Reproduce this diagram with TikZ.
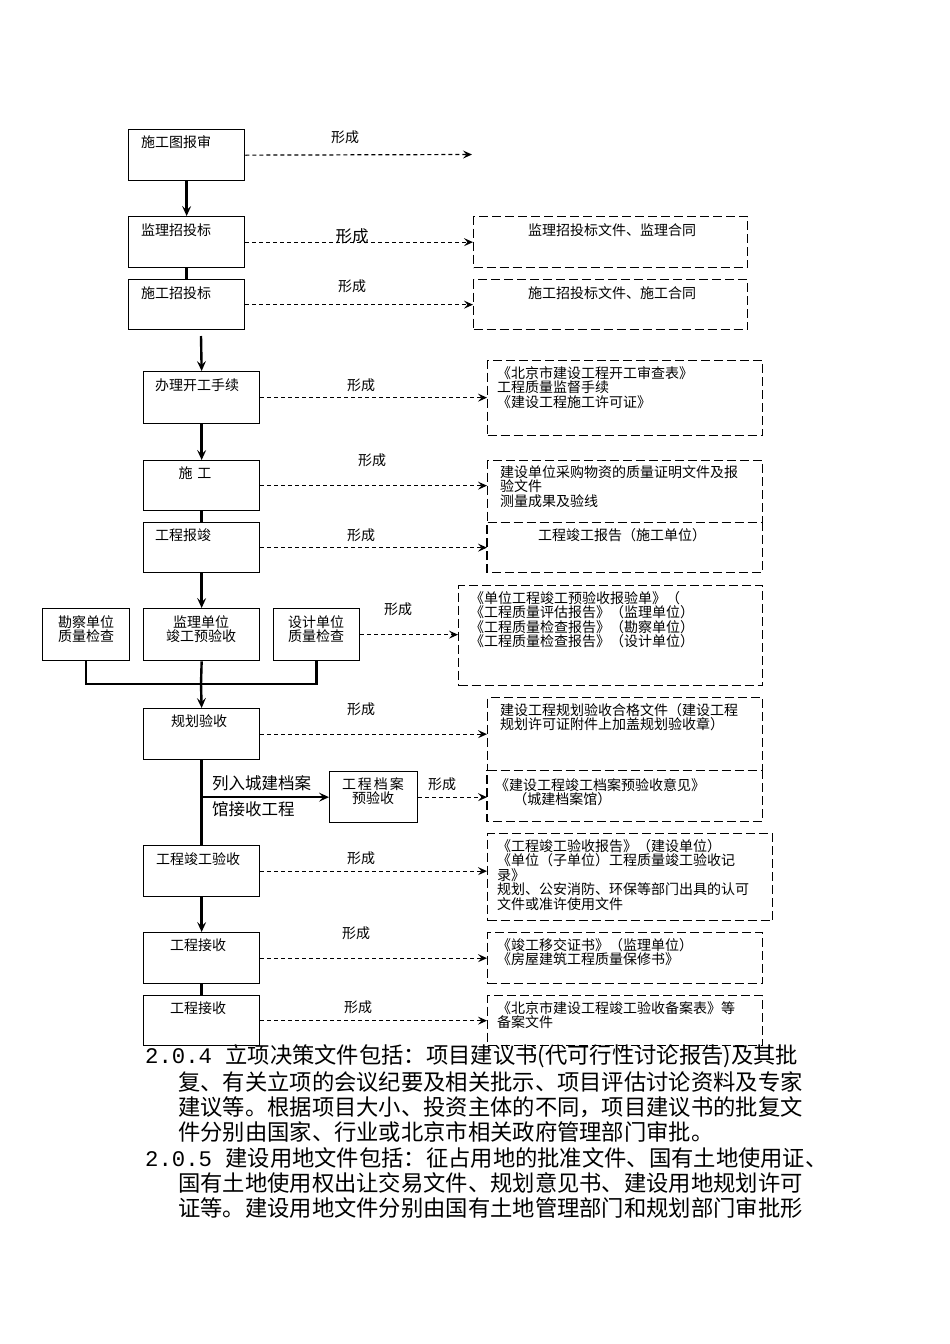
\documentclass[tikz,border=0pt]{standalone}
\usepackage{fontspec}
\setmainfont{Noto Sans CJK SC}
\newfontfamily\numfont{Liberation Mono}
\usetikzlibrary{arrows.meta}
\newcommand\fs{\fontsize{14}{14.5}\selectfont}
\newcommand\fm{\fontsize{16.5}{17}\selectfont}
\newcommand\fp{\fontsize{22.3}{23}\selectfont}
\begin{document}
\begin{tikzpicture}[x=1pt,y=-1pt,
  box/.style={draw, line width=1.3pt, anchor=north west, inner sep=0},
  dline/.style={line width=1.2pt, dash pattern=on 9pt off 4pt},
  dbox/.style={draw, dline, anchor=north west, inner sep=0},
  nbox/.style={anchor=north west, inner sep=0},
  lab/.style={font=\fs, inner sep=0},
  mlab/.style={font=\fs, inner sep=0, align=left, anchor=north west},
  clab/.style={font=\fs, inner sep=0, align=center},
  para/.style={font=\fp, inner sep=0, anchor=west},
  sline/.style={line width=2.4pt},
  sarrow/.style={line width=2.4pt, -{Stealth[length=10pt,width=9pt,inset=4pt]}},
  darrow/.style={line width=1.2pt, dash pattern=on 4pt off 3pt, -{Stealth[length=9pt,width=8pt,inset=3.5pt]}}]
\useasboundingbox (0,0) rectangle (950,1344);
\fill[white] (0,0) rectangle (950,1344);
% left boxes
\node[box, minimum width=116pt, minimum height=51pt] (b1) at (128,129) {};
\node[box, minimum width=116pt, minimum height=51pt] (b2) at (128,216) {};
\node[box, minimum width=116pt, minimum height=50pt] (b3) at (128,279) {};
\node[box, minimum width=116pt, minimum height=52pt] (b4) at (143,371) {};
\node[box, minimum width=116pt, minimum height=50pt] (b5) at (143,460) {};
\node[box, minimum width=116pt, minimum height=50pt] (b6) at (143,522) {};
\node[box, minimum width=87pt, minimum height=52pt] (bk) at (42,608) {};
\node[box, minimum width=116pt, minimum height=52pt] (bs) at (143,608) {};
\node[box, minimum width=86pt, minimum height=52pt] (bd) at (273,608) {};
\node[box, minimum width=116pt, minimum height=51pt] (b7) at (143,708) {};
\node[box, minimum width=88pt, minimum height=51pt] (ba) at (329,771) {};
\node[box, minimum width=116pt, minimum height=51pt] (b8) at (143,845) {};
\node[box, minimum width=116pt, minimum height=51pt] (b9) at (143,932) {};
\node[box, minimum width=116pt, minimum height=50pt] (b10) at (143,995) {};
% dashed boxes
\node[dbox, minimum width=274pt, minimum height=51pt] (dA) at (473,216) {};
\node[dbox, minimum width=274pt, minimum height=50pt] (dB) at (473,279) {};
\node[dbox, minimum width=275pt, minimum height=75pt] (dC) at (487,360) {};
\node[dbox, minimum width=275pt, minimum height=62pt] (dD) at (487,460) {};
\node[nbox, minimum width=275pt, minimum height=50pt] (dE) at (487,522) {};
\draw[dline] (dE.north east) -- (dE.south east) -- (dE.south west) -- (dE.north west);
\node[dbox, minimum width=304pt, minimum height=100pt] (dF) at (458,585) {};
\node[dbox, minimum width=275pt, minimum height=73pt] (dG) at (487,697) {};
\node[nbox, minimum width=275pt, minimum height=51pt] (dH) at (487,770) {};
\draw[dline] (dH.north east) -- (dH.south east) -- (dH.south west) -- (dH.north west);
\node[dbox, minimum width=285pt, minimum height=87pt] (dI) at (487,833) {};
\node[dbox, minimum width=275pt, minimum height=51pt] (dJ) at (487,932) {};
\node[dbox, minimum width=275pt, minimum height=50pt] (dK) at (487,995) {};
% box texts
\node[lab, anchor=west] (t1) at (141,142) {施工图报审};
\node[lab, anchor=west] (t2) at (141,230) {监理招投标};
\node[lab, anchor=west] (t3) at (141,293) {施工招投标};
\node[lab, anchor=west] (t4) at (155,385) {办理开工手续};
\node[lab] (t5) at (195,473) {施\,\,工};
\node[lab, anchor=west] (t6) at (155,535) {工程报竣};
\node[clab] (tk) at (86,629) {勘察单位\\质量检查};
\node[clab] (ts) at (201,629) {监理单位\\竣工预验收};
\node[clab] (td) at (316,629) {设计单位\\质量检查};
\node[lab] (t7) at (199,721) {规划验收};
\node[clab] (ta) at (373,791) {工\kern2pt 程\kern2pt 档\kern2pt 案\\预验收};
\node[lab] (t8) at (198,859) {工程竣工验收};
\node[lab] (t9) at (198,945) {工程接收};
\node[lab] (t10) at (198,1008) {工程接收};
\node[font=\fm, inner sep=0, anchor=west] (la1) at (212,783) {列入城建档案};
\node[font=\fm, inner sep=0, anchor=west] (la2) at (212,809) {馆接收工程};
% dashed box texts
\node[lab] (xA) at (612,230) {监理招投标文件、监理合同};
\node[lab] (xB) at (612,293) {施工招投标文件、施工合同};
\node[mlab] (xC) at (497,366) {《北京市建设工程开工审查表》\\工程质量监督手续\\《建设工程施工许可证》};
\node[mlab] (xD) at (500,465) {建设单位采购物资的质量证明文件及报\\验文件\\测量成果及验线};
\node[lab] (xE) at (622,535) {工程竣工报告（施工单位）};
\node[mlab] (xF) at (470,591) {《单位工程竣工预验收报验单》（\\《工程质量评估报告》（监理单位）\\《工程质量检查报告》（勘察单位）\\《工程质量检查报告》（设计单位）};
\node[mlab] (xG) at (500,703) {建设工程规划验收合格文件（建设工程\\规划许可证附件上加盖规划验收章）};
\node[mlab] (xH) at (495,778) {《建设工程竣工档案预验收意见》\\\hspace{1.3em}（城建档案馆）};
\node[mlab] (xI) at (497,839) {《工程竣工验收报告》（建设单位）\\《单位（子单位）工程质量竣工验收记\\录》\\规划、公安消防、环保等部门出具的认可\\文件或准许使用文件};
\node[mlab] (xJ) at (497,938) {《竣工移交证书》（监理单位）\\《房屋建筑工程质量保修书》};
\node[mlab] (xK) at (497,1001) {《北京市建设工程竣工验收备案表》等\\备案文件};
% 形成 labels
\node[lab] (f1) at (345,137) {形成};
\node[font=\fm, inner sep=0] (f2) at (352,236) {形成};
\node[lab] (f3) at (352,286) {形成};
\node[lab] (f4) at (361,385) {形成};
\node[lab] (f5) at (372,460) {形成};
\node[lab] (f6) at (361,535) {形成};
\node[lab] (f7) at (398,609) {形成};
\node[lab] (f8) at (361,709) {形成};
\node[lab] (f9) at (442,784) {形成};
\node[lab] (f10) at (361,858) {形成};
\node[lab] (f11) at (356,933) {形成};
\node[lab] (f12) at (358,1007) {形成};
% solid connectors
\coordinate (c1) at (201,336);
\coordinate (m) at (201,684);
\draw[sarrow] (b1.south) -- (b2.north);
\draw[sline] (b2.south) -- (b3.north);
\draw[sarrow] (c1) -- (b4.north);
\draw[sarrow] (b4.south) -- (b5.north);
\draw[sline] (b5.south) -- (b6.north);
\draw[sarrow] (b6.south) -- (bs.north);
\draw[sline] (bk.south) |- (m) -| (bd.south);
\draw[sline] (bs.south) -- (m);
\draw[sarrow] (m) -- (b7.north);
\draw[sline] (b7.south) -- (b8.north);
\draw[sarrow] (b7.south |- ba.west) -- (ba.west);
\draw[sarrow] (b8.south) -- (b9.north);
\draw[sline] (b9.south) -- (b10.north);
% dashed connectors
\coordinate (e1) at (472,154.5);
\draw[darrow] (b1.east) -- (e1);
\draw[darrow] (b2.east) -- (b2.east -| dA.west);
\draw[darrow] (b3.east) -- (b3.east -| dB.west);
\draw[darrow] (b4.east) -- (b4.east -| dC.west);
\draw[darrow] (b5.east) -- (b5.east -| dD.west);
\draw[darrow] (b6.east) -- (b6.east -| dE.west);
\draw[darrow] (bd.east) -- (bd.east -| dF.west);
\draw[darrow] (b7.east) -- (b7.east -| dG.west);
\draw[darrow] (ba.east) -- (ba.east -| dH.west);
\draw[darrow] (b8.east) -- (b8.east -| dI.west);
\draw[darrow] (b9.east) -- (b9.east -| dJ.west);
\draw[darrow] (b10.east) -- (b10.east -| dK.west);
% paragraph
\node[para] (p1) at (145,1056) {{\numfont 2.0.4 }立项决策文件包括：项目建议书(代可行性讨论报告)及其批};
\node[para] (p2) at (178,1082) {复、有关立项的会议纪要及相关批示、项目评估讨论资料及专家};
\node[para] (p3) at (178,1107) {建议等。根据项目大小、投资主体的不同，项目建议书的批复文};
\node[para] (p4) at (178,1132) {件分别由国家、行业或北京市相关政府管理部门审批。};
\node[para] (p5) at (145,1158) {{\numfont 2.0.5 }建设用地文件包括：征占用地的批准文件、国有土地使用证、};
\node[para] (p6) at (178,1183) {国有土地使用权出让交易文件、规划意见书、建设用地规划许可};
\node[para] (p7) at (178,1208) {证等。建设用地文件分别由国有土地管理部门和规划部门审批形};
\end{tikzpicture}
\end{document}
